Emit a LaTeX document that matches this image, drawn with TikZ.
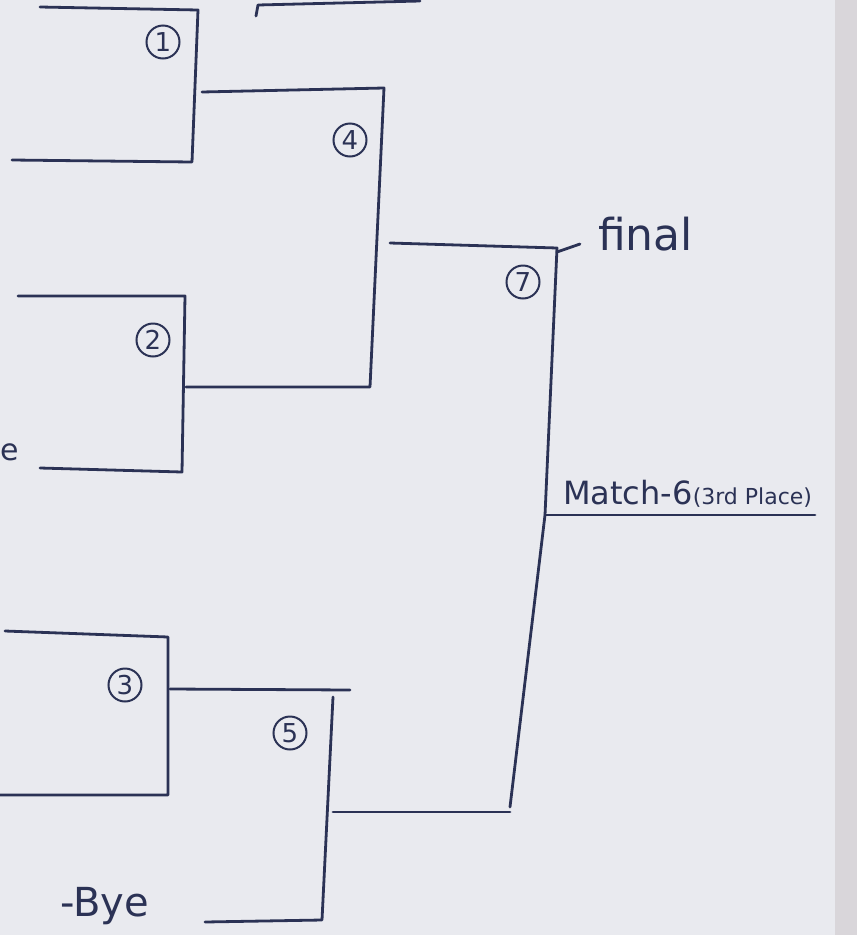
\documentclass[tikz,border=0pt]{standalone}
\usepackage{fontspec}
\setmainfont{DejaVu Sans}
\usetikzlibrary{calc}
\definecolor{paper}{HTML}{E9EAEF}
\definecolor{paperedge}{HTML}{D9D6DA}
\definecolor{ink}{HTML}{2B3255}
\begin{document}
\begin{tikzpicture}[x=1pt,y=-1pt,
  wire/.style={draw=ink,line width=2.8pt,line cap=round,line join=round},
  num/.style={circle,draw=ink,line width=2pt,inner sep=0pt,minimum size=33pt,text=ink,font=\fontsize{26}{26}\selectfont},
  hand/.style={text=ink,inner sep=0pt}]
\useasboundingbox (0,0) rectangle (865,935);
\fill[paper] (0,0) rectangle (865,935);
\fill[paperedge] (835,0) rectangle (857,935);
\fill[white] (857,0) rectangle (865,935);
% coordinates
\coordinate (m1t0) at (40,7);
\coordinate (m1t) at (198,10);
\coordinate (m1b) at (192,162);
\coordinate (m1b0) at (12,160);
\coordinate (up0) at (256,16);
\coordinate (up1) at (258,5);
\coordinate (up2) at (420,1);
\coordinate (m4t0) at (202,92);
\coordinate (m4t) at (384,88);
\coordinate (m4b) at (370,387);
\coordinate (m4b0) at (186,387);
\coordinate (m2t0) at (18,296);
\coordinate (m2t) at (185,296);
\coordinate (m2b) at (182,472);
\coordinate (m2b0) at (40,468);
\coordinate (m7t0) at (390,243);
\coordinate (m7t) at (557,248);
\coordinate (m7m) at (545,515);
\coordinate (m7b) at (510,807);
\coordinate (m7b0) at (333,812);
\coordinate (m6e) at (815,515);
\coordinate (fa) at (580,244);
\coordinate (m3t0) at (5,631);
\coordinate (m3t) at (168,637);
\coordinate (m3b) at (168,795);
\coordinate (m3b0) at (0,795);
\coordinate (m5t0) at (170,689);
\coordinate (m5t) at (350,690);
\coordinate (m5v) at (333,697);
\coordinate (m5b) at (322,920);
\coordinate (m5b0) at (205,922);
% bracket lines
\draw[wire] (m1t0) -- (m1t) -- (m1b) -- (m1b0);
\draw[wire] (up0) -- (up1) -- (up2);
\draw[wire] (m4t0) -- (m4t) -- (m4b) -- (m4b0);
\draw[wire] (m2t0) -- (m2t) -- (m2b) -- (m2b0);
\draw[wire] (m7t0) -- (m7t) -- (m7m) -- (m7b);
\draw[wire] (m7b0) -- ($(m7b)+(0,5)$);
\draw[wire] (m7m) -- (m6e);
\draw[wire] ($(m7t)+(0,4)$) -- (fa);
\draw[wire] (m3t0) -- (m3t) -- (m3b) -- (m3b0);
\draw[wire] (m5t0) -- (m5t);
\draw[wire] (m5v) -- (m5b) -- (m5b0);
% match numbers
\node[num] (n1) at (163,42) {1};
\node[num] (n4) at (350,140) {4};
\node[num] (n2) at (153,340) {2};
\node[num] (n7) at (523,282) {7};
\node[num] (n3) at (125,685) {3};
\node[num] (n5) at (290,733) {5};
% labels
\node[hand,anchor=west,font=\fontsize{44}{44}\selectfont] (final) at (598,234) {final};
\node[hand,anchor=south west,font=\fontsize{32}{32}\selectfont] (m6) at (563,508) {Match-6{\fontsize{22}{22}\selectfont(3rd Place)}};
\node[hand,anchor=base west,font=\fontsize{40}{40}\selectfont] (bye) at (60,916) {-Bye};
\node[hand,anchor=west,font=\fontsize{30}{30}\selectfont] (e) at (0,452) {e};
\end{tikzpicture}
\end{document}
